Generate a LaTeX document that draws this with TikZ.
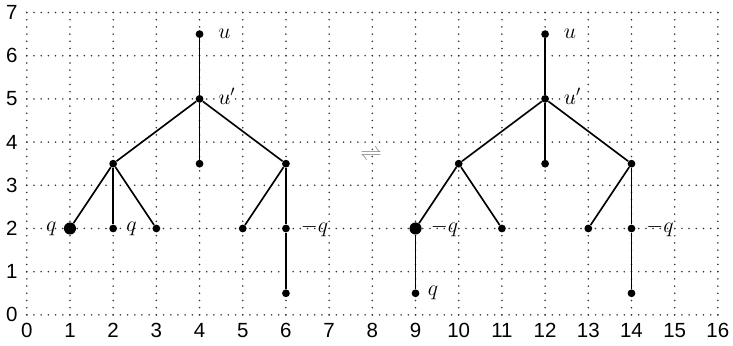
\documentclass[tikz,border=0pt]{standalone}
\usepackage[no-math]{fontspec}
\setmainfont{Liberation Sans}
\usetikzlibrary{positioning}

\begin{document}
\begin{tikzpicture}[
        grade/.style={
            line width=1.15pt, dash pattern=on 0pt off 4.7421pt,
            line cap=round, black!80
        },
        vert/.style={circle, fill, inner sep=0pt, minimum size=0.18cm},
        grande/.style={vert, minimum size=0.28cm},
        aresta/.style={line width=1.1pt},
        rot/.style={inner sep=0pt, font=\Large},
        eixo/.style={inner sep=0pt, font=\fontsize{13.5}{16}\selectfont}
    ]
        \useasboundingbox (-0.62,-0.72) rectangle (16.35,7.29);

        % Grade
        \foreach \i in {0,...,16} \draw[grade] (\i,0) -- (\i,7);
        \foreach \j in {0,...,7} \draw[grade] (0,\j) -- (16,\j);
        \foreach \i in {0,...,16} \node[eixo, anchor=north] (x\i) at (\i,-0.19) {\i};
        \foreach \j in {0,...,7} \node[eixo, anchor=east] (y\j) at (-0.21,\j) {\j};

        % Árvore da esquerda
        \node[vert] (u1) at (4,6.5) {};
        \node[vert] (v1) at (4,5) {};
        \node[vert] (m1) at (4,3.5) {};
        \node[vert] (a1) at (2,3.5) {};
        \node[vert] (b1) at (6,3.5) {};
        \node[grande] (a1p) at (1,2) {};
        \node[vert] (a1q) at (2,2) {};
        \node[vert] (a1r) at (3,2) {};
        \node[vert] (b1p) at (5,2) {};
        \node[vert] (b1q) at (6,2) {};
        \node[vert] (b1r) at (6,0.5) {};

        \node[rot, right=0.33cm of u1] (lu1) {$u$};
        \node[rot, right=0.33cm of v1, yshift=0.06cm] (lv1) {$u'$};
        \node[rot, left=0.16cm of a1p] (la1p) {$q$};
        \node[rot, right=0.2cm of a1q] (la1q) {$q$};
        \node[rot, right=0.24cm of b1q] (lb1q) {$-q$};

        % Árvore da direita
        \node[vert] (u2) at (12,6.5) {};
        \node[vert] (v2) at (12,5) {};
        \node[vert] (m2) at (12,3.5) {};
        \node[vert] (a2) at (10,3.5) {};
        \node[vert] (b2) at (14,3.5) {};
        \node[grande] (a2p) at (9,2) {};
        \node[vert] (a2s) at (9,0.5) {};
        \node[vert] (a2r) at (11,2) {};
        \node[vert] (b2p) at (13,2) {};
        \node[vert] (b2q) at (14,2) {};
        \node[vert] (b2r) at (14,0.5) {};

        \node[rot, right=0.33cm of u2] (lu2) {$u$};
        \node[rot, right=0.33cm of v2, yshift=0.06cm] (lv2) {$u'$};
        \node[rot, right=0.2cm of a2p] (la2p) {$-q$};
        \node[rot, right=0.18cm of a2s] (la2s) {$q$};
        \node[rot, right=0.24cm of b2q] (lb2q) {$-q$};

        % Troca
        \node[rot, text=black!45] (troca) at (7.97,3.7) {$\rightleftharpoons$};

        % Arestas
        \draw[aresta] (u1) -- (v1);
        \draw[aresta] (v1) -- (m1);
        \draw[aresta] (v1) -- (a1);
        \draw[aresta] (v1) -- (b1);
        \draw[aresta] (a1) -- (a1p);
        \draw[aresta] (a1) -- (a1q);
        \draw[aresta] (a1) -- (a1r);
        \draw[aresta] (b1) -- (b1p);
        \draw[aresta] (b1) -- (b1q);
        \draw[aresta] (b1q) -- (b1r);

        \draw[aresta] (u2) -- (v2);
        \draw[aresta] (v2) -- (m2);
        \draw[aresta] (v2) -- (a2);
        \draw[aresta] (v2) -- (b2);
        \draw[aresta] (a2) -- (a2p);
        \draw[aresta] (a2p) -- (a2s);
        \draw[aresta] (a2) -- (a2r);
        \draw[aresta] (b2) -- (b2p);
        \draw[aresta] (b2) -- (b2q);
        \draw[aresta] (b2q) -- (b2r);

    \end{tikzpicture}
\end{document}
